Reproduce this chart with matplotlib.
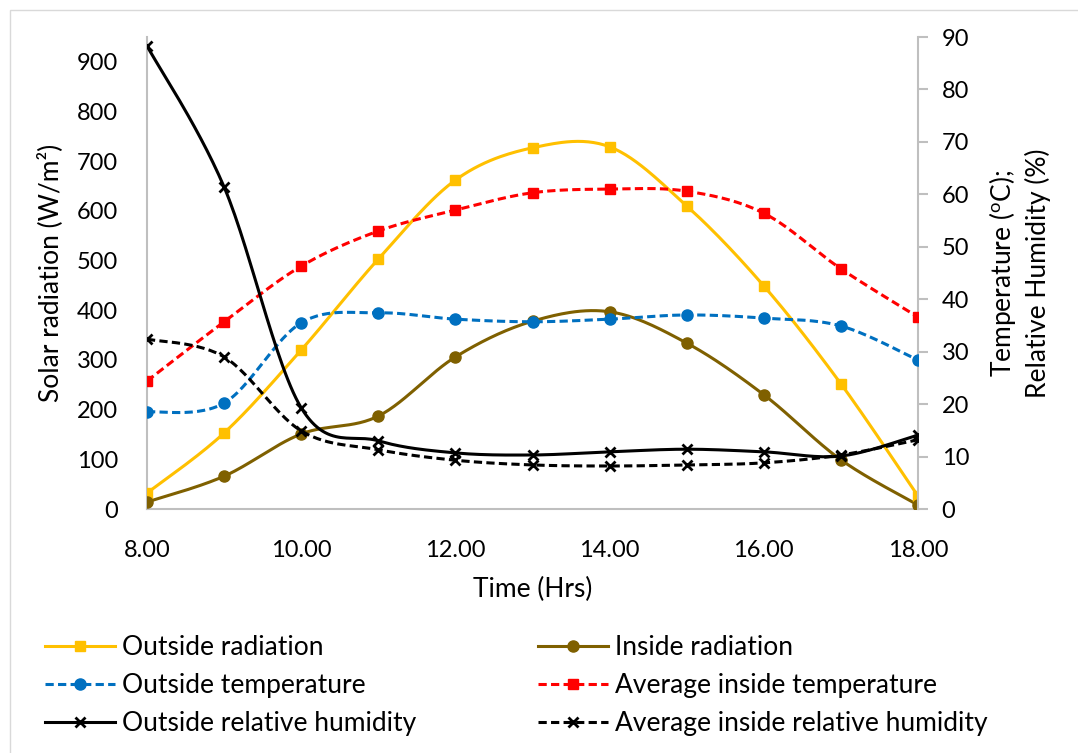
import numpy as np
import matplotlib
matplotlib.use("Agg")
import matplotlib.pyplot as plt
from matplotlib.patches import Rectangle

plt.rcParams['font.family'] = ['Lato', 'DejaVu Sans']
plt.rcParams['mathtext.fontset'] = 'custom'
plt.rcParams['mathtext.rm'] = 'Lato'

# ---- data ----
hours = [8, 9, 10, 11, 12, 13, 14, 15, 16, 17, 18]
outside_radiation = [32, 153, 320, 503, 662, 727, 729, 610, 449, 252, 26]
inside_radiation = [14, 66, 151, 187, 306, 378, 397, 334, 230, 99, 8]
outside_temp = [18.5, 20.2, 35.5, 37.4, 36.2, 35.7, 36.2, 37.0, 36.4, 34.9, 28.4]
avg_inside_temp = [24.4, 35.7, 46.3, 53.0, 57.0, 60.3, 61.0, 60.6, 56.4, 45.8, 36.6]
outside_rh = [88.3, 61.4, 19.3, 13.0, 10.7, 10.3, 10.9, 11.4, 10.9, 10.1, 14.1]
avg_inside_rh = [32.4, 29.0, 14.9, 11.3, 9.3, 8.4, 8.2, 8.4, 8.8, 10.3, 13.2]
x_ticks = [8, 10, 12, 14, 16, 18]
x_tick_labels = ["8.00", "10.00", "12.00", "14.00", "16.00", "18.00"]

labels = ["Outside radiation", "Inside radiation", "Outside temperature",
          "Average inside temperature", "Outside relative humidity",
          "Average inside relative humidity"]


def smooth(x, y, n=30):
    """Catmull-Rom style smoothing (like Excel's smoothed line)."""
    x = np.asarray(x, float)
    y = np.asarray(y, float)
    P = np.column_stack([x, y])
    P_ext = np.vstack([P[0], P, P[-1]])
    out = []
    t = np.linspace(0, 1, n)[:, None]
    for i in range(len(P) - 1):
        p0, p1, p2, p3 = P_ext[i], P_ext[i + 1], P_ext[i + 2], P_ext[i + 3]
        c1 = p1 + (p2 - p0) / 6.0
        c2 = p2 - (p3 - p1) / 6.0
        seg = ((1 - t) ** 3 * p1 + 3 * (1 - t) ** 2 * t * c1
               + 3 * (1 - t) * t ** 2 * c2 + t ** 3 * p2)
        if i > 0:
            seg = seg[1:]
        out.append(seg)
    s = np.vstack(out)
    return s[:, 0], s[:, 1]


W, H = 1078, 753
fig = plt.figure(figsize=(W / 100, H / 100), dpi=100)
fig.patches.append(Rectangle((10 / W, -0.01), 1.02, 1 - 10 / H + 0.01, transform=fig.transFigure,
                             fill=False, edgecolor='#D9D9D9', linewidth=1))

ax = fig.add_axes([147 / W, 1 - 509 / H, (918 - 147) / W, (509 - 37) / H])
ax2 = ax.twinx()

lw = 2.2
dash = (2.7, 1.4)
FS_TICK = 17
FS = 19

series = [
    (ax, outside_radiation, '#FFC000', '-', 's', 7, labels[0]),
    (ax, inside_radiation, '#7F6000', '-', 'o', 8, labels[1]),
    (ax2, outside_temp, '#0070C0', '--', 'o', 8, labels[2]),
    (ax2, avg_inside_temp, '#FF0000', '--', 's', 7, labels[3]),
    (ax2, outside_rh, '#000000', '-', 'x', 7, labels[4]),
    (ax2, avg_inside_rh, '#000000', '--', 'x', 7, labels[5]),
]

handles = []
for a, ys, c, ls, mk, ms, lab in series:
    sx, sy = smooth(hours, ys)
    ln, = a.plot(sx, sy, color=c, lw=lw, ls=ls, zorder=3)
    if ls == '--':
        ln.set_dashes(dash)
    a.plot(hours, ys, ls='none', marker=mk, color=c, ms=ms, mew=2 if mk == 'x' else 1, zorder=4)
    h, = a.plot([], [], color=c, lw=lw, ls=ls, marker=mk, ms=ms, mew=2 if mk == 'x' else 1)
    if ls == '--':
        h.set_dashes(dash)
    handles.append(h)

ax.set_xlim(8, 18)
ax.set_ylim(0, 950)
ax2.set_ylim(0, 90)
ax.set_xticks(x_ticks)
ax.set_xticklabels(x_tick_labels)
ax.set_yticks(np.arange(0, 1000, 100))
ax2.set_yticks(np.arange(0, 100, 10))

for a in (ax, ax2):
    a.spines['top'].set_visible(False)
    for s in ('left', 'bottom', 'right'):
        a.spines[s].set_color('#BFBFBF')
        a.spines[s].set_linewidth(1.5)
ax2.spines['left'].set_visible(False)
ax2.spines['bottom'].set_visible(False)
ax.spines['right'].set_visible(False)

ax.tick_params(axis='x', length=0, labelsize=FS_TICK, pad=22)
ax.tick_params(axis='y', length=0, labelsize=FS_TICK, pad=21)
ax2.tick_params(axis='y', length=7, width=1.5, color='#BFBFBF', labelsize=FS_TICK, pad=10,
                direction='out')
ax.set_xlabel("Time (Hrs)", fontsize=FS, labelpad=12)
ax.set_ylabel("Solar radiation (W/m²)", fontsize=FS, labelpad=10)
ax2.set_ylabel("Temperature ($\\mathregular{^o}$C);\nRelative Humidity (%)", fontsize=FS,
               labelpad=13, linespacing=1.3)

# legend filled row by row (matplotlib fills column-wise)
order = [0, 2, 4, 1, 3, 5]
fig.legend([handles[i] for i in order], [labels[i] for i in order], ncol=2, loc='upper left',
           bbox_to_anchor=(45 / W, 1 - 635 / H), frameon=False, fontsize=FS, borderpad=0,
           borderaxespad=0, handlelength=2.65, handletextpad=0.27, columnspacing=4.6,
           labelspacing=0.5)

fig.savefig("out.png", dpi=100)
